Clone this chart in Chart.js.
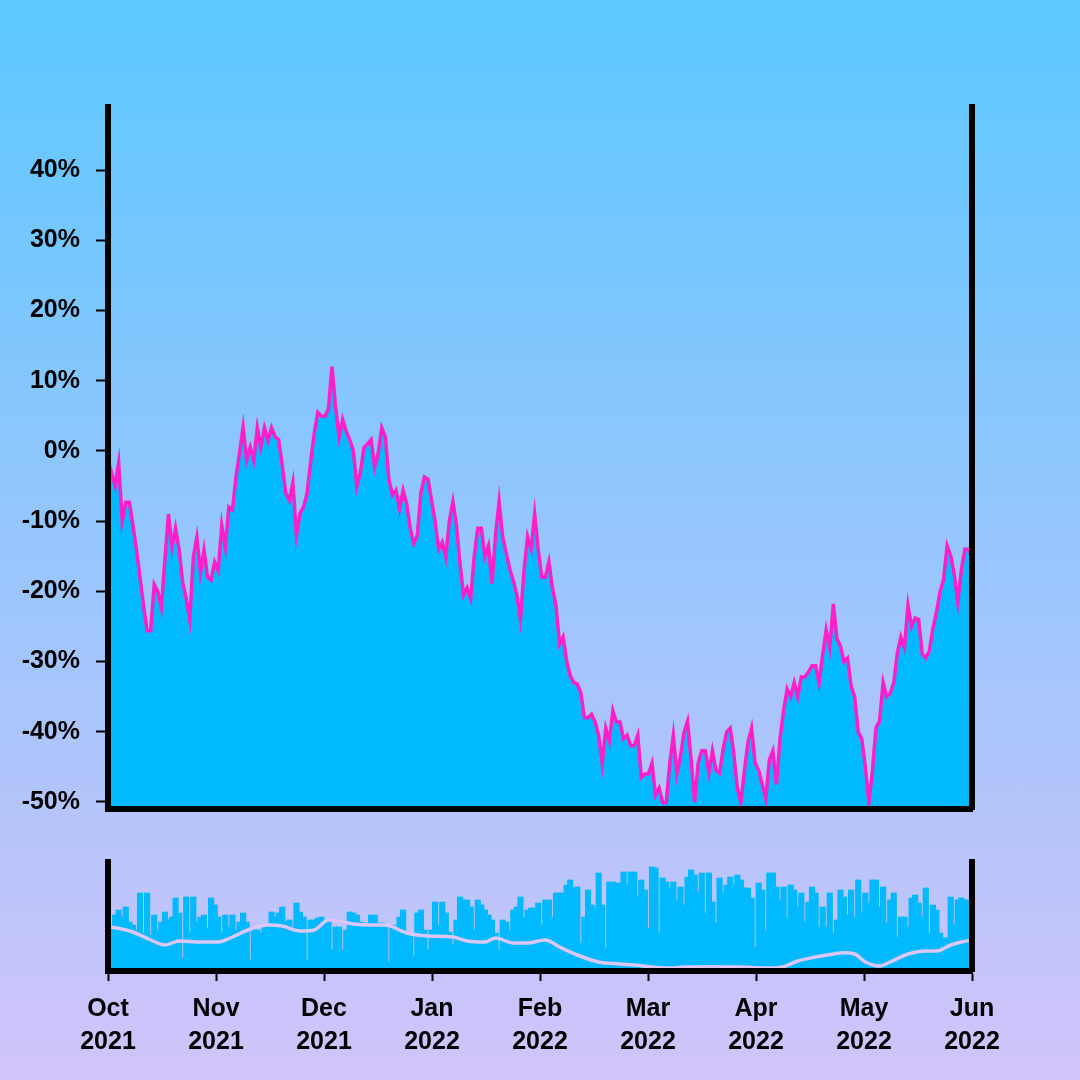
<!DOCTYPE html>
<html><head><meta charset="utf-8">
<script src="https://cdn.jsdelivr.net/npm/chart.js@4"></script>
<style>
html,body{margin:0;padding:0;width:1080px;height:1080px;overflow:hidden;background:linear-gradient(to bottom,#5ac8ff 0%,#d2c4fa 100%);}
.wrap{position:absolute;left:0;top:0;width:1080px;height:1080px;}
canvas{display:block;}
</style></head><body>
<div class="wrap"><canvas id="main" width="1080" height="1080"></canvas></div>
<div class="wrap"><canvas id="vol" width="1080" height="1080"></canvas></div>
<script>
// ---- data ----
const monthLabels = [['Oct','2021'],['Nov','2021'],['Dec','2021'],['Jan','2022'],['Feb','2022'],['Mar','2022'],['Apr','2022'],['May','2022'],['Jun','2022']];
const yTicks = [-50,-40,-30,-20,-10,0,10,20,30,40];
// daily % change, Oct 1 2021 .. Jun 1 2022
const priceChange = [
-1.3,-3.1,-4.9,-1.7,-10,-7.3,-7.3,-10.5,-14,-18,-22,-25.6,-25.6,-19,-20,-22.3,-15.5,-9,-13.7,-11,
-14,-18.7,-21,-24,-15.1,-12.3,-17.3,-14.1,-18,-18.4,-15.8,-17,-10.6,-13.7,-8,-8.4,-3.7,-0.3,3.4,-1.3,
0.5,-1.3,3.3,0.6,3.3,1.5,3.3,2,1.6,-2,-6,-7,-4.5,-12,-8.9,-8,-6,-1.5,2.5,5.5,
5,4.9,6,12,6.3,2,4.5,2.8,1.6,0,-5,-3,0.5,1,1.6,-2.3,-0.3,3.3,2,-4,
-6.3,-5.6,-8.2,-5.6,-7.5,-11,-13.2,-12,-6,-3.7,-4,-7,-10,-14,-13,-15.1,-10,-7.2,-10.5,-16,
-20.5,-19.5,-21,-15,-11,-11,-15,-13.5,-18.9,-12,-7.2,-12.2,-14.5,-16.8,-18.5,-20.5,-24,-17,-12.2,-14,
-9,-14,-18,-18,-15.8,-19.5,-22,-27.5,-26.5,-29.9,-32,-33,-33.2,-34.5,-38,-38,-37.5,-38.6,-40.5,-44.5,
-39.5,-41.3,-37,-38.6,-38.6,-41,-40.5,-42,-42,-40.5,-46.5,-46,-46,-44.5,-49,-48,-50.1,-50.1,-44.5,-40.5,
-46,-43.5,-40.1,-38.5,-44,-50,-44.4,-42.7,-42.7,-45.8,-42.7,-45.5,-45.9,-42.5,-40,-39.5,-43,-48,-50,-45.5,
-41.5,-39.5,-44.4,-45.5,-47.5,-49.5,-44,-42.7,-47.5,-41,-37,-33.9,-35,-33,-35,-32.2,-32.2,-31.5,-30.6,-30.6,
-33,-29,-25.5,-28,-21.8,-26.7,-27.8,-30,-29.5,-33.5,-35,-40,-41,-45,-50,-45.5,-39.4,-38.5,-33,-35,
-34.5,-33,-28.8,-26.5,-28,-22,-25,-23.8,-24,-28.9,-29.5,-28.5,-25.3,-23,-20.1,-18.3,-13.5,-14.9,-17.5,-21.5,
-17,-14,-14,-15
];
// daily volume (relative units)
const volume = [
41,43,53,58,51,61,46,43,38,75,35,75,33,53,38,46,56,48,51,70,
55,10,71,35,71,46,51,53,40,70,63,51,35,53,41,53,38,46,55,46,
8,41,38,35,41,43,56,51,55,61,46,48,41,65,56,51,8,48,48,50,
51,48,48,18,41,41,18,38,56,55,53,46,43,45,53,53,43,45,41,6,
43,41,51,58,33,33,12,55,58,38,18,38,66,43,66,55,36,23,48,71,
68,68,61,38,68,63,58,53,48,35,18,48,46,38,58,61,71,50,58,60,
60,65,43,68,68,51,75,75,75,83,88,80,81,25,51,78,63,60,95,63,
20,86,86,85,85,96,83,96,96,71,88,78,40,101,100,35,90,86,80,86,
68,81,63,91,98,93,76,95,55,95,66,45,90,75,83,91,83,93,88,80,
80,70,21,85,78,38,95,95,81,68,81,50,83,78,61,75,46,66,81,75,
41,61,41,75,35,48,78,71,53,78,51,88,56,75,65,88,88,61,81,45,
68,75,31,51,51,41,70,73,65,51,80,35,63,58,35,30,30,71,43,68,
70,68,68,68
];
// smoothed trend line on the volume panel
const maDays   = [0,1,7,12,16,20,26,31,35,40,45,49,54,58,62,65,69,74,78,84,90,97,101,106,109,114,118,123,127,132,138,144,148,153,158,162,169,178,186,190,194,199,204,207,210,213,217,220,225,230,233,237,240,243];
const maValues = [41,40.7,36,28,23,27,26,26,31,39,43,42,37,38,48,47,44,43,43,35,32,31,27,26,30,25,25,28,21,13,6,4,3,1,0,1,1.3,1,0,1.3,7,11,14,15.3,14,6,2,6,14,17,17,23,26,28];

// ---- styles ----
const FILL = '#00b9ff';
const MAGENTA = '#ff1fc8';
const LAV = '#dcc6f6';
const FONT = {family:'"Liberation Sans", Arial, Helvetica, sans-serif', weight:'bold', size:25, lineHeight:1.33};
const lastDay = priceChange.length - 1;
const border = {display:true, color:'#000', width:6, z:2};

new Chart(document.getElementById('main'), {
  type:'line',
  data:{datasets:[{
    data: priceChange.map((v,i)=>({x:i,y:v})),
    borderColor: MAGENTA, borderWidth:3.5, backgroundColor: FILL,
    fill:'start', pointRadius:0, tension:0, borderJoinStyle:'miter'
  }]},
  options:{
    responsive:false, animation:false, devicePixelRatio:1,
    layout:{padding:{left:0,right:108,top:107,bottom:271}},
    plugins:{legend:{display:false}, tooltip:{enabled:false}},
    scales:{
      x:{type:'linear', min:0, max:lastDay,
         ticks:{display:false}, grid:{display:false}, border:border,
         afterFit(s){s.height=0;}},
      y:{position:'left', min:-51, max:49,
         afterBuildTicks(s){s.ticks = yTicks.map(v=>({value:v}));},
         ticks:{callback:v=>v+'%', color:'#000', font:FONT, padding:16},
         grid:{drawOnChartArea:false, drawTicks:true, tickLength:12, tickWidth:2, tickColor:'#000', color:'#000'},
         border:border, afterFit(s){s.width=108;}},
      yR:{position:'right', min:-51, max:49,
         ticks:{display:false}, grid:{display:false}, border:border,
         afterFit(s){s.width=0;}}
    }
  }
});

new Chart(document.getElementById('vol'), {
  type:'bar',
  data:{datasets:[
    {type:'line', data: maDays.map((d,i)=>({x:d,y:maValues[i]})), borderColor:LAV, borderWidth:3.5,
     pointRadius:0, cubicInterpolationMode:'monotone', fill:false, order:1},
    {type:'bar', data: volume.map((v,i)=>({x:i,y:v})), backgroundColor:FILL, borderWidth:0,
     barThickness:5.5, order:2}
  ]},
  options:{
    responsive:false, animation:false, devicePixelRatio:1,
    layout:{padding:{left:0,right:108,top:862,bottom:0}},
    plugins:{legend:{display:false}, tooltip:{enabled:false}},
    scales:{
      x:{type:'linear', min:0, max:lastDay, offset:false,
         afterBuildTicks(s){s.ticks = monthLabels.map((_,i)=>({value:i*lastDay/(monthLabels.length-1)}));},
         ticks:{callback:(v,i)=>monthLabels[i], color:'#000', font:FONT, padding:11, maxRotation:0, autoSkip:false},
         grid:{drawOnChartArea:false, offset:false, tickLength:10, tickWidth:2, tickColor:'#000', color:'#000'},
         border:border, afterFit(s){s.height=109;}},
      y:{position:'left', min:-3, max:106,
         ticks:{display:false}, grid:{display:false}, border:border,
         afterFit(s){s.width=108;}},
      yR:{position:'right', min:-3, max:106,
         ticks:{display:false}, grid:{display:false}, border:border,
         afterFit(s){s.width=0;}}
    }
  }
});
</script>
</body></html>
